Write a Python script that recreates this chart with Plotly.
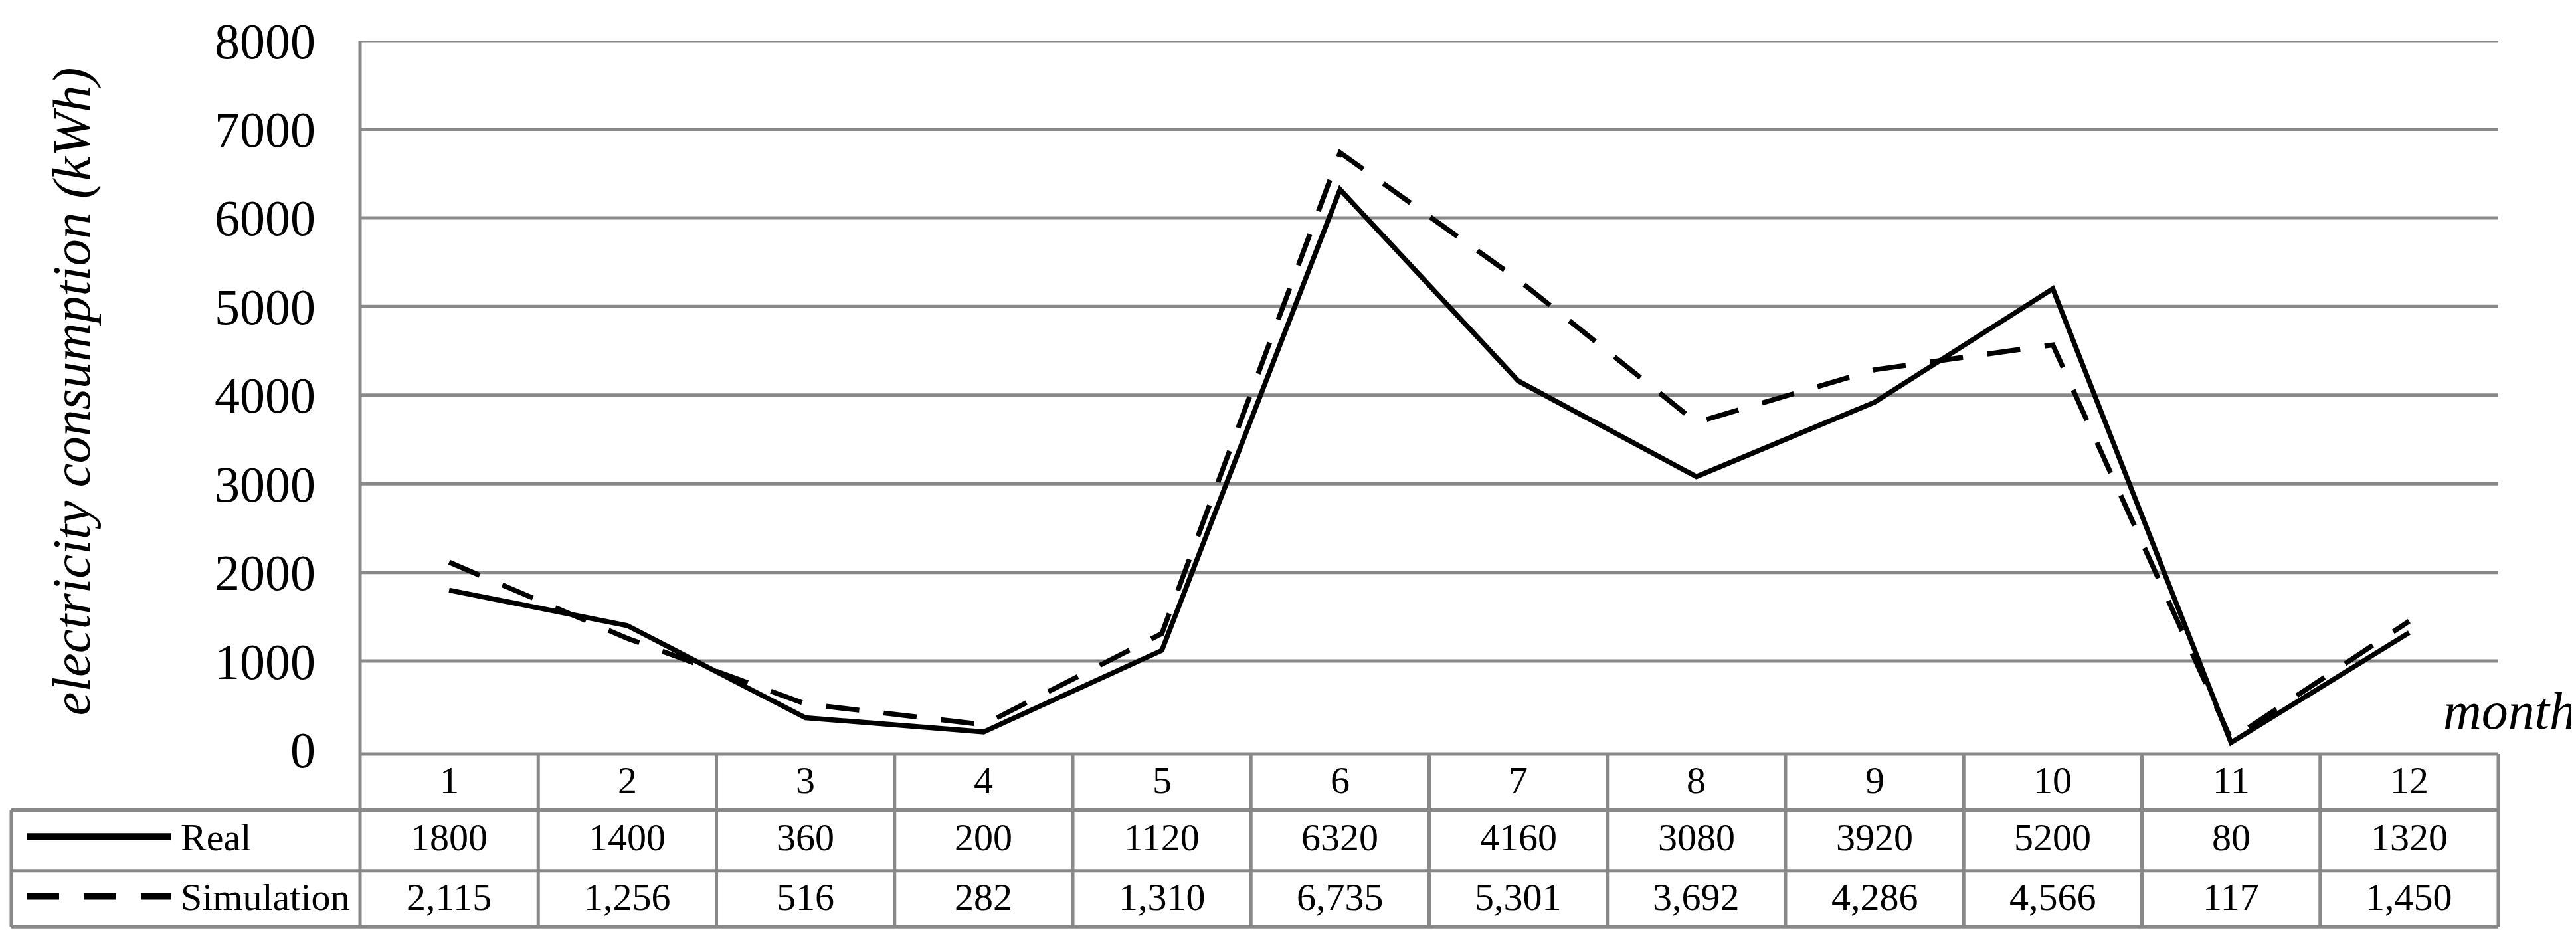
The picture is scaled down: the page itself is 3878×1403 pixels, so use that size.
import plotly.graph_objects as go

# ---------------- data ----------------
months = [1, 2, 3, 4, 5, 6, 7, 8, 9, 10, 11, 12]
real = [1800, 1400, 360, 200, 1120, 6320, 4160, 3080, 3920, 5200, 80, 1320]
simulation = [2115, 1256, 516, 282, 1310, 6735, 5301, 3692, 4286, 4566, 117, 1450]
y_ticks = [0, 1000, 2000, 3000, 4000, 5000, 6000, 7000, 8000]
series_names = ["Real", "Simulation"]
y_title = "electricity consumption (kWh)"
x_title = "month"

# ---------------- layout geometry (pixels) ----------------
W, H = 3878, 1403
L, R = 534, 3753          # plot area left / right
T, B = 46, 1127           # plot area top (8000) / bottom (table top)
Y0_PX = 1120.5            # pixel of value 0
px_per_unit = (Y0_PX - T) / 8000.0
y_min = -(B - Y0_PX) / px_per_unit

ROW_LINES = [1127, 1212, 1304, 1389]
LEG_LEFT = 9
GRAY = "#888888"
LW = 5
FONT = "Liberation Serif"


def pxx(px):
    return (px - L) / (R - L)


def pxy(py):
    return (B - py) / (B - T)


fig = go.Figure()
fig.add_trace(go.Scatter(x=months, y=real, mode="lines", name=series_names[0],
                         line=dict(color="black", width=7.5), showlegend=False))
fig.add_trace(go.Scatter(x=months, y=simulation, mode="lines", name=series_names[1],
                         line=dict(color="black", width=7.5, dash="50px,37px"),
                         showlegend=False))

shapes = []
# horizontal gridlines (1000..8000)
for v in y_ticks[1:]:
    shapes.append(dict(type="line", xref="paper", yref="y", x0=0, x1=1, y0=v, y1=v,
                       line=dict(color=GRAY, width=LW), layer="below"))
# left axis line through the table
shapes.append(dict(type="line", xref="paper", yref="paper", x0=0, x1=0,
                   y0=pxy(ROW_LINES[-1]), y1=1, line=dict(color=GRAY, width=LW)))
# table horizontal lines
shapes.append(dict(type="line", xref="paper", yref="paper", x0=0, x1=1,
                   y0=pxy(ROW_LINES[0]), y1=pxy(ROW_LINES[0]), line=dict(color=GRAY, width=LW)))
for ry in ROW_LINES[1:]:
    shapes.append(dict(type="line", xref="paper", yref="paper", x0=pxx(LEG_LEFT), x1=1,
                       y0=pxy(ry), y1=pxy(ry), line=dict(color=GRAY, width=LW)))
# table vertical lines (column boundaries)
for k in range(1, len(months) + 1):
    xb = k / len(months)
    shapes.append(dict(type="line", xref="paper", yref="paper", x0=xb, x1=xb,
                       y0=pxy(ROW_LINES[-1]), y1=pxy(ROW_LINES[0]),
                       line=dict(color=GRAY, width=LW)))
# legend column left border
shapes.append(dict(type="line", xref="paper", yref="paper", x0=pxx(LEG_LEFT), x1=pxx(LEG_LEFT),
                   y0=pxy(ROW_LINES[-1]), y1=pxy(ROW_LINES[1]), line=dict(color=GRAY, width=LW)))
# legend sample lines
shapes.append(dict(type="line", xref="paper", yref="paper", x0=pxx(32), x1=pxx(250),
                   y0=pxy(1252), y1=pxy(1252), line=dict(color="black", width=10)))
shapes.append(dict(type="line", xref="paper", yref="paper", x0=pxx(32), x1=pxx(250),
                   y0=pxy(1343), y1=pxy(1343),
                   line=dict(color="black", width=10, dash="49px,37px")))

annotations = []
TFS = 58
row_text_y = [1167, 1253, 1344]
for m, rv, sv in zip(months, real, simulation):
    annotations.append(dict(x=m, xref="x", y=pxy(row_text_y[0]), yref="paper", text=str(m),
                            showarrow=False, xanchor="center", yanchor="middle",
                            font=dict(family=FONT, size=TFS, color="black")))
    annotations.append(dict(x=m, xref="x", y=pxy(row_text_y[1]), yref="paper", text=str(rv),
                            showarrow=False, xanchor="center", yanchor="middle",
                            font=dict(family=FONT, size=TFS, color="black")))
    annotations.append(dict(x=m, xref="x", y=pxy(row_text_y[2]), yref="paper", text=f"{sv:,}",
                            showarrow=False, xanchor="center", yanchor="middle",
                            font=dict(family=FONT, size=TFS, color="black")))
for name, ty in zip(series_names, row_text_y[1:]):
    annotations.append(dict(x=pxx(262), xref="paper", y=pxy(ty), yref="paper", text=name,
                            showarrow=False, xanchor="left", yanchor="middle",
                            font=dict(family=FONT, size=TFS, color="black")))
# axis titles
annotations.append(dict(x=pxx(100), xref="paper", y=pxy(578), yref="paper", text=y_title,
                        textangle=-90, showarrow=False, xanchor="center", yanchor="middle",
                        font=dict(family=FONT, size=81, color="black", style="italic")))
annotations.append(dict(x=pxx(3872), xref="paper", y=pxy(1062), yref="paper", text=x_title,
                        showarrow=False, xanchor="right", yanchor="middle",
                        font=dict(family=FONT, size=80, color="black", style="italic")))

fig.update_layout(
    width=W, height=H,
    margin=dict(l=L, r=W - R, t=T, b=H - B, pad=0),
    paper_bgcolor="white", plot_bgcolor="white",
    shapes=shapes, annotations=annotations,
    xaxis=dict(range=[0.5, 12.5], showgrid=False, zeroline=False, showline=False,
               showticklabels=False, ticks=""),
    yaxis=dict(range=[y_min, 8000], showgrid=False, zeroline=False, showline=False,
               tickmode="array", tickvals=y_ticks, ticktext=[str(v) for v in y_ticks],
               ticks="", ticklabelstandoff=66,
               tickfont=dict(family=FONT, size=76, color="black")),
)

fig.write_html("out.html")
